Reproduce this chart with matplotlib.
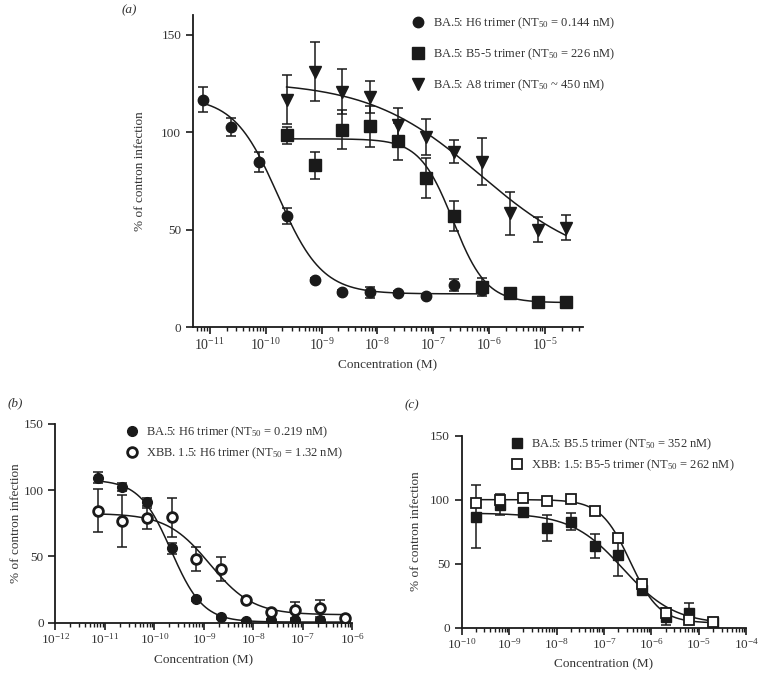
import numpy as np
import matplotlib
matplotlib.use("Agg")
import matplotlib.pyplot as plt
from matplotlib.ticker import LogLocator, NullFormatter

plt.rcParams['font.family'] = ['Liberation Serif', 'DejaVu Serif']
plt.rcParams['mathtext.fontset'] = 'custom'
plt.rcParams['mathtext.rm'] = 'Liberation Serif'
plt.rcParams['mathtext.it'] = 'Liberation Serif:italic'
plt.rcParams['mathtext.default'] = 'regular'

INK = '#1a1a1a'
TXT = '#333333'

# ---------------- panel (a) data ----------------
logx_a_h6 = [-11.125, -10.625, -10.125, -9.625, -9.125, -8.625, -8.125, -7.625, -7.125, -6.625, -6.125]
y_a_h6 = [116.6, 102.7, 84.5, 56.8, 24.0, 18.0, 17.7, 17.5, 16.0, 21.6, 19.0]
err_a_h6 = [6.5, 4.5, 5.0, 4.0, 1.0, 1.0, 3.0, 1.0, 1.0, 3.0, 1.0]

logx_a_b55 = [-9.625, -9.125, -8.625, -8.125, -7.625, -7.125, -6.625, -6.125, -5.625, -5.125, -4.625]
y_a_b55 = [98.3, 82.9, 101.2, 102.9, 95.2, 76.5, 57.0, 20.5, 17.4, 12.8, 12.8]
err_a_b55 = [4.5, 7.0, 10.0, 10.5, 9.5, 10.3, 7.7, 4.5, 1.0, 1.0, 1.0]

logx_a_a8 = [-9.625, -9.125, -8.625, -8.125, -7.625, -7.125, -6.625, -6.125, -5.625, -5.125, -4.625]
y_a_a8 = [116.6, 131.0, 120.7, 118.0, 103.7, 97.6, 90.0, 84.7, 58.4, 50.0, 51.0]
err_a_a8 = [12.7, 15.2, 11.5, 8.0, 8.7, 9.2, 5.7, 12.0, 11.0, 6.5, 6.3]

# fitted 4PL curves: top, bottom, logEC50, hill
fit_a_h6 = (118, 17, -9.78, 1.1)
fit_a_b55 = (96.5, 12.5, -6.646, 1.45)
fit_a_a8 = (126, 30, -6.16, 0.435)

ticks_a = [-11, -10, -9, -8, -7, -6, -5]
labels_a = ['BA.5: H6 trimer (NT$_{50}$ = 0.144 nM)',
            'BA.5: B5-5 trimer (NT$_{50}$ = 226 nM)',
            'BA.5: A8 trimer (NT$_{50}$ ~ 450 nM)']

# ---------------- panel (b) data ----------------
logx_b = [-11.15, -10.65, -10.15, -9.65, -9.15, -8.65, -8.15, -7.65, -7.15, -6.65, -6.15]
y_b_ba5 = [109.5, 102.2, 91.4, 56.1, 17.6, 4.0, 1.5, 2.0, 2.0, 2.0, 2.0]
err_b_ba5 = [4.0, 3.0, 3.0, 4.2, 1.0, 1.0, 0.5, 0.5, 0.5, 0.5, 0.5]
y_b_xbb = [84.6, 77.0, 78.8, 79.6, 48.1, 40.5, 17.1, 7.8, 9.6, 10.8, 3.5]
err_b_xbb = [16.0, 19.5, 8.0, 14.6, 9.3, 9.0, 2.0, 1.0, 5.8, 6.3, 1.0]
fit_b_ba5 = (108, 0.5, -9.66, 1.35)
fit_b_xbb = (82.5, 6, -8.88, 1.0)
ticks_b = [-12, -11, -10, -9, -8, -7, -6]
labels_b = ['BA.5: H6 trimer (NT$_{50}$ = 0.219 nM)',
            'XBB. 1.5: H6 trimer (NT$_{50}$ = 1.32 nM)']

# ---------------- panel (c) data ----------------
logx_c = [-9.70, -9.20, -8.70, -8.20, -7.70, -7.20, -6.70, -6.20, -5.70, -5.20, -4.70]
y_c_ba5 = [86.8, 96.1, 90.2, 77.7, 82.9, 64.0, 57.0, 29.3, 8.6, 11.2, 4.2]
err_c_ba5 = [24.3, 8.0, 2.0, 10.4, 6.7, 9.5, 16.5, 3.0, 7.0, 8.2, 1.0]
y_c_xbb = [97.7, 100.0, 101.3, 99.2, 100.5, 91.0, 70.2, 34.0, 11.2, 6.0, 4.2]
err_c_xbb = [3.0, 3.0, 2.0, 1.0, 1.0, 1.0, 3.0, 3.0, 2.0, 1.0, 1.0]
fit_c_ba5 = (89.5, 2.5, -6.6, 0.8)
fit_c_xbb = (100, 3.5, -6.45, 1.4)
ticks_c = [-10, -9, -8, -7, -6, -5, -4]
labels_c = ['BA.5: B5.5 trimer (NT$_{50}$ = 352 nM)',
            'XBB: 1.5: B5-5 trimer (NT$_{50}$ = 262 nM)']


def four_pl(logx, p):
    top, bottom, logec, hill = p
    return bottom + (top - bottom) / (1 + 10 ** ((logx - logec) * hill))


def draw_series(ax, logx, y, err, fit, marker, ms, face, mew=1.0):
    x = 10 ** np.array(logx)
    lx = np.linspace(min(logx), max(logx), 300)
    ax.plot(10 ** lx, four_pl(lx, fit), color=INK, lw=1.1, zorder=2)
    ax.errorbar(x, y, yerr=err, fmt='none', ecolor=INK, elinewidth=1.1,
                capsize=3.5, capthick=1.1, zorder=2)
    h, = ax.plot(x, y, linestyle='none', marker=marker, ms=ms, mfc=face,
                 mec=INK, mew=mew, zorder=3)
    return h


def style_axis(ax, xlim, ylim, ticks, fs=9.5, xfs=10):
    ax.set_xscale('log')
    ax.set_xlim(*xlim)
    ax.set_ylim(*ylim)
    ax.set_yticks([0, 50, 100, 150])
    ax.set_xticks([10.0 ** k for k in ticks])
    ax.set_xticklabels(['$10^{%d}$' % k for k in ticks])
    ax.xaxis.set_minor_locator(LogLocator(base=10, subs=np.arange(2, 10), numticks=30))
    ax.xaxis.set_minor_formatter(NullFormatter())
    for s in ['top', 'right']:
        ax.spines[s].set_visible(False)
    for s in ['left', 'bottom']:
        ax.spines[s].set_linewidth(1.3)
        ax.spines[s].set_color(INK)
    ax.tick_params(which='major', length=5, width=1.2, color=INK, labelsize=fs, labelcolor=TXT)
    ax.tick_params(axis='x', which='major', labelsize=xfs, pad=2)
    ax.tick_params(which='minor', length=3, width=1.0, color=INK)
    ax.set_xlabel('Concentration (M)', fontsize=fs, color=TXT, labelpad=5)
    ax.set_ylabel('% of contron infection', fontsize=fs, color=TXT)


fig = plt.figure(figsize=(7.59, 6.73), dpi=100)

# ---- (a)
ax_a = fig.add_axes([0.2543, 0.5141, 0.5138, 0.4636])
h1 = draw_series(ax_a, logx_a_h6, y_a_h6, err_a_h6, fit_a_h6, 'o', 7.5, INK)
h2 = draw_series(ax_a, logx_a_b55, y_a_b55, err_a_b55, fit_a_b55, 's', 8, INK)
h3 = draw_series(ax_a, logx_a_a8, y_a_a8, err_a_a8, fit_a_a8, 'v', 8.5, INK)
style_axis(ax_a, (10 ** -11.3, 10 ** -4.32), (0, 160), ticks_a)
ax_a.yaxis.labelpad = 11
ax_a.legend([h1, h2, h3], labels_a, loc='upper left', bbox_to_anchor=(0.53, 1.035),
            frameon=False, fontsize=9, labelspacing=1.25, handletextpad=0.6,
            handlelength=1.2, labelcolor=TXT)
fig.text(122 / 759, 1 - 10 / 673, '(a)', fontsize=9.5, style='italic', color=TXT, va='center')

# ---- (b)
ax_b = fig.add_axes([0.0731, 0.0747, 0.3911, 0.2953])
g1 = draw_series(ax_b, logx_b, y_b_ba5, err_b_ba5, fit_b_ba5, 'o', 7, INK)
g2 = draw_series(ax_b, logx_b, y_b_xbb, err_b_xbb, fit_b_xbb, 'o', 7, 'white', mew=2.0)
style_axis(ax_b, (1e-12, 1e-6), (0, 150), ticks_b, xfs=9.5)
ax_b.yaxis.labelpad = 1
ax_b.legend([g1, g2], labels_b, loc='upper left', bbox_to_anchor=(0.195, 1.055),
            frameon=False, fontsize=9, labelspacing=0.45, handletextpad=0.5,
            handlelength=1.2, labelcolor=TXT)
fig.text(8 / 759, 1 - 403 / 673, '(b)', fontsize=9.5, style='italic', color=TXT, va='center')

# ---- (c)
ax_c = fig.add_axes([0.6083, 0.0676, 0.3750, 0.2850])
k1 = draw_series(ax_c, logx_c, y_c_ba5, err_c_ba5, fit_c_ba5, 's', 7, INK)
k2 = draw_series(ax_c, logx_c, y_c_xbb, err_c_xbb, fit_c_xbb, 's', 7, 'white', mew=1.3)
style_axis(ax_c, (1e-10, 1e-4), (0, 150), ticks_c, xfs=9.5)
ax_c.yaxis.labelpad = 6
ax_c.legend([k1, k2], labels_c, loc='upper left', bbox_to_anchor=(0.13, 1.055),
            frameon=False, fontsize=9, labelspacing=0.45, handletextpad=0.5,
            handlelength=1.2, labelcolor=TXT)
fig.text(405 / 759, 1 - 405 / 673, '(c)', fontsize=9.5, style='italic', color=TXT, va='center')

fig.savefig('out.png', dpi=100)
